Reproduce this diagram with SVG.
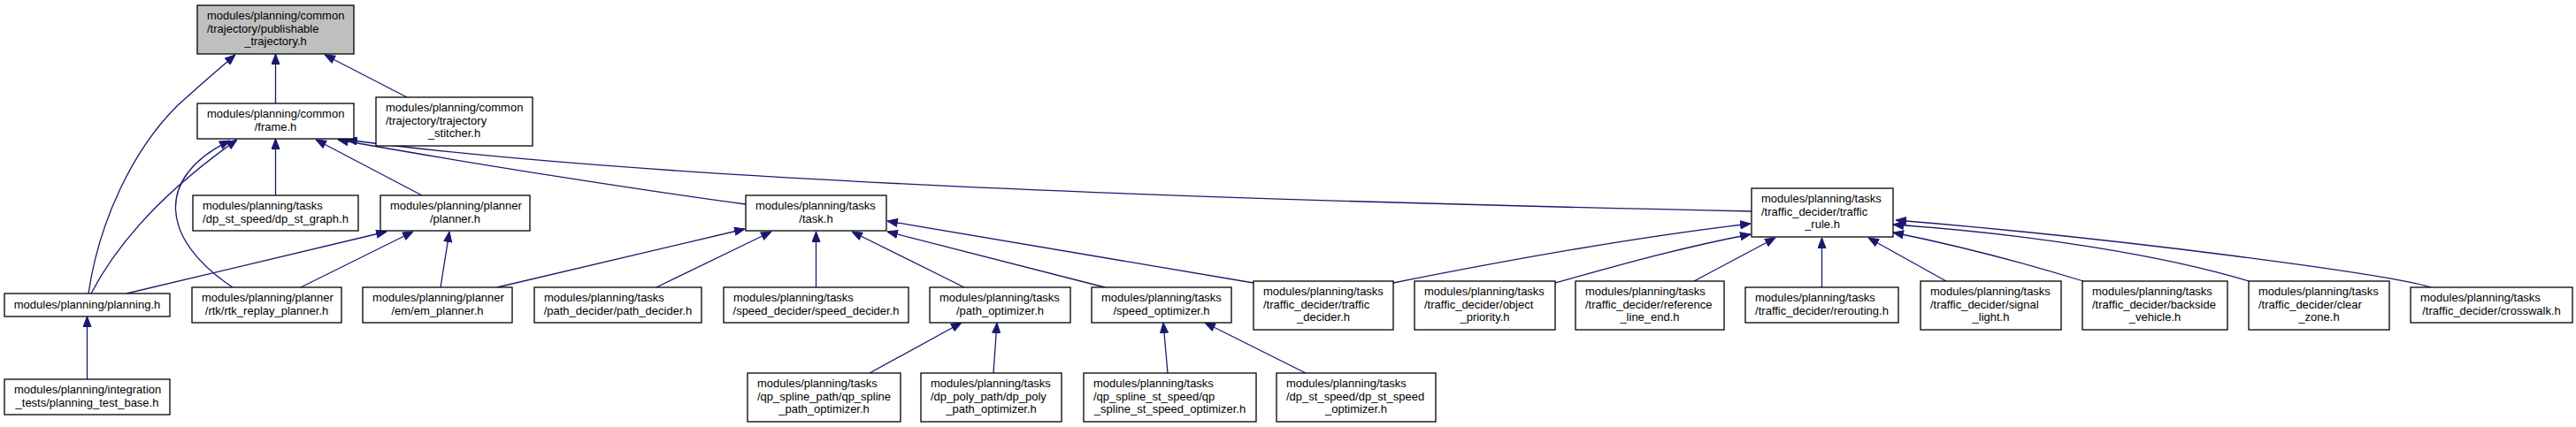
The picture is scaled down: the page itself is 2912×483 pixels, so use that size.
<svg xmlns="http://www.w3.org/2000/svg" width="2912" height="483" viewBox="0 0 2912 483">
<style>
rect{fill:#fff;stroke:#000;stroke-width:1.3}
.root rect{fill:#bfbfbf}
text{font-family:"Liberation Sans",Arial,Helvetica,sans-serif;font-size:13px;fill:#000}
.m{text-anchor:middle}
.e path{fill:none;stroke:#191970;stroke-width:1.3;marker-end:url(#ah)}
</style>
<defs>
<marker id="ah" markerUnits="userSpaceOnUse" markerWidth="12" markerHeight="10" viewBox="0 0 12 10" refX="12" refY="5" orient="auto">
<path d="M0.5,0.5 L12,5 L0.5,9.5 z" fill="#191970" stroke="#191970" stroke-width="1"/>
</marker>
</defs>
<rect x="0" y="0" width="2912" height="483" style="fill:#fff;stroke:none"/>
<g id="edges" class="e">
<path d="M311.5,117 L311.5,61"/>
<path d="M460,110 L367,62"/>
<path d="M100,332 C112,250 150,170 200,120 C225,97 245,80 266,62"/>
<path d="M311.5,221 L311.5,157"/>
<path d="M477,221 L357,158"/>
<path d="M103,332 C130,280 180,220 268,158"/>
<path d="M263,325 C180,270 175,200 260,159"/>
<path d="M843,231 C760,220 560,190 382,158"/>
<path d="M1980,239 C1300,225 700,200 392,158"/>
<path d="M143,332 L437,262"/>
<path d="M340,325 L467,262"/>
<path d="M498,325 L508,262"/>
<path d="M562,325 L842,259"/>
<path d="M742,325 L872,262"/>
<path d="M922.5,325 L922.5,262"/>
<path d="M1090,325 L963,262"/>
<path d="M1249,325 L1003,262"/>
<path d="M1417,320 L1003,250"/>
<path d="M983,422 L1087,365"/>
<path d="M1123,422 L1127,365"/>
<path d="M1320,422 L1315,365"/>
<path d="M1476,422 L1362,365"/>
<path d="M1575,320 C1700,295 1850,268 1979,253"/>
<path d="M1758,320 C1830,300 1900,280 1979,265"/>
<path d="M1915,318 L2007,269"/>
<path d="M2059.5,325 L2059.5,269"/>
<path d="M2200,318 L2112,269"/>
<path d="M2355,318 C2280,295 2200,275 2140,263"/>
<path d="M2542,318 C2450,290 2300,265 2140,254"/>
<path d="M2748,325 C2700,310 2400,270 2143,249"/>
<path d="M98.5,429 L98.5,358"/>
</g>
<g id="n_root" class="root"><rect x="223" y="6" width="177" height="55"/>
<text x="234" y="22">modules/planning/common</text><text x="234" y="36.5">/trajectory/publishable</text><text class="m" x="311.5" y="51">_trajectory.h</text></g>
<g id="n_frame"><rect x="223" y="117" width="177" height="40"/>
<text x="234" y="133">modules/planning/common</text><text class="m" x="311.5" y="147.5">/frame.h</text></g>
<g id="n_stitcher"><rect x="425" y="110" width="177" height="55"/>
<text x="436" y="126">modules/planning/common</text><text x="436" y="140.5">/trajectory/trajectory</text><text class="m" x="513.5" y="155">_stitcher.h</text></g>
<g id="n_dp_st_graph"><rect x="218" y="221" width="187" height="40"/>
<text x="229" y="237">modules/planning/tasks</text><text class="m" x="311.5" y="251.5">/dp_st_speed/dp_st_graph.h</text></g>
<g id="n_planner"><rect x="430" y="221" width="169" height="40"/>
<text x="441" y="237">modules/planning/planner</text><text class="m" x="514.5" y="251.5">/planner.h</text></g>
<g id="n_task"><rect x="843" y="221" width="159" height="40"/>
<text x="854" y="237">modules/planning/tasks</text><text class="m" x="922.5" y="251.5">/task.h</text></g>
<g id="n_traffic_rule"><rect x="1980" y="213" width="160" height="55"/>
<text x="1991" y="229">modules/planning/tasks</text><text x="1991" y="243.5">/traffic_decider/traffic</text><text class="m" x="2060" y="258">_rule.h</text></g>
<g id="n_planning"><rect x="5" y="332" width="187" height="26"/>
<text class="m" x="98.5" y="349">modules/planning/planning.h</text></g>
<g id="n_rtk"><rect x="217" y="325" width="169" height="40"/>
<text x="228" y="341">modules/planning/planner</text><text class="m" x="301.5" y="355.5">/rtk/rtk_replay_planner.h</text></g>
<g id="n_em"><rect x="410" y="325" width="169" height="40"/>
<text x="421" y="341">modules/planning/planner</text><text class="m" x="494.5" y="355.5">/em/em_planner.h</text></g>
<g id="n_path_decider"><rect x="604" y="325" width="189" height="40"/>
<text x="615" y="341">modules/planning/tasks</text><text class="m" x="698.5" y="355.5">/path_decider/path_decider.h</text></g>
<g id="n_speed_decider"><rect x="818" y="325" width="209" height="40"/>
<text x="829" y="341">modules/planning/tasks</text><text class="m" x="922.5" y="355.5">/speed_decider/speed_decider.h</text></g>
<g id="n_path_optimizer"><rect x="1051" y="325" width="159" height="40"/>
<text x="1062" y="341">modules/planning/tasks</text><text class="m" x="1130.5" y="355.5">/path_optimizer.h</text></g>
<g id="n_speed_optimizer"><rect x="1234" y="325" width="158" height="40"/>
<text x="1245" y="341">modules/planning/tasks</text><text class="m" x="1313" y="355.5">/speed_optimizer.h</text></g>
<g id="n_traffic_decider"><rect x="1417" y="318" width="158" height="55"/>
<text x="1428" y="334">modules/planning/tasks</text><text x="1428" y="348.5">/traffic_decider/traffic</text><text class="m" x="1496" y="363">_decider.h</text></g>
<g id="n_object_priority"><rect x="1599" y="318" width="159" height="55"/>
<text x="1610" y="334">modules/planning/tasks</text><text x="1610" y="348.5">/traffic_decider/object</text><text class="m" x="1678.5" y="363">_priority.h</text></g>
<g id="n_reference_line_end"><rect x="1781" y="318" width="168" height="55"/>
<text x="1792" y="334">modules/planning/tasks</text><text x="1792" y="348.5">/traffic_decider/reference</text><text class="m" x="1865" y="363">_line_end.h</text></g>
<g id="n_rerouting"><rect x="1973" y="325" width="173" height="40"/>
<text x="1984" y="341">modules/planning/tasks</text><text class="m" x="2059.5" y="355.5">/traffic_decider/rerouting.h</text></g>
<g id="n_signal_light"><rect x="2171" y="318" width="159" height="55"/>
<text x="2182" y="334">modules/planning/tasks</text><text x="2182" y="348.5">/traffic_decider/signal</text><text class="m" x="2250.5" y="363">_light.h</text></g>
<g id="n_backside_vehicle"><rect x="2354" y="318" width="164" height="55"/>
<text x="2365" y="334">modules/planning/tasks</text><text x="2365" y="348.5">/traffic_decider/backside</text><text class="m" x="2436" y="363">_vehicle.h</text></g>
<g id="n_clear_zone"><rect x="2542" y="318" width="159" height="55"/>
<text x="2553" y="334">modules/planning/tasks</text><text x="2553" y="348.5">/traffic_decider/clear</text><text class="m" x="2621.5" y="363">_zone.h</text></g>
<g id="n_crosswalk"><rect x="2725" y="325" width="183" height="40"/>
<text x="2736" y="341">modules/planning/tasks</text><text class="m" x="2816.5" y="355.5">/traffic_decider/crosswalk.h</text></g>
<g id="n_planning_test_base"><rect x="5" y="429" width="187" height="40"/>
<text x="16" y="445">modules/planning/integration</text><text class="m" x="98.5" y="459.5">_tests/planning_test_base.h</text></g>
<g id="n_qp_spline_path"><rect x="845" y="422" width="173" height="55"/>
<text x="856" y="438">modules/planning/tasks</text><text x="856" y="452.5">/qp_spline_path/qp_spline</text><text class="m" x="931.5" y="467">_path_optimizer.h</text></g>
<g id="n_dp_poly_path"><rect x="1041" y="422" width="159" height="55"/>
<text x="1052" y="438">modules/planning/tasks</text><text x="1052" y="452.5">/dp_poly_path/dp_poly</text><text class="m" x="1120.5" y="467">_path_optimizer.h</text></g>
<g id="n_qp_spline_st_speed"><rect x="1225" y="422" width="195" height="55"/>
<text x="1236" y="438">modules/planning/tasks</text><text x="1236" y="452.5">/qp_spline_st_speed/qp</text><text class="m" x="1322.5" y="467">_spline_st_speed_optimizer.h</text></g>
<g id="n_dp_st_speed_optimizer"><rect x="1443" y="422" width="180" height="55"/>
<text x="1454" y="438">modules/planning/tasks</text><text x="1454" y="452.5">/dp_st_speed/dp_st_speed</text><text class="m" x="1533" y="467">_optimizer.h</text></g>
</svg>
